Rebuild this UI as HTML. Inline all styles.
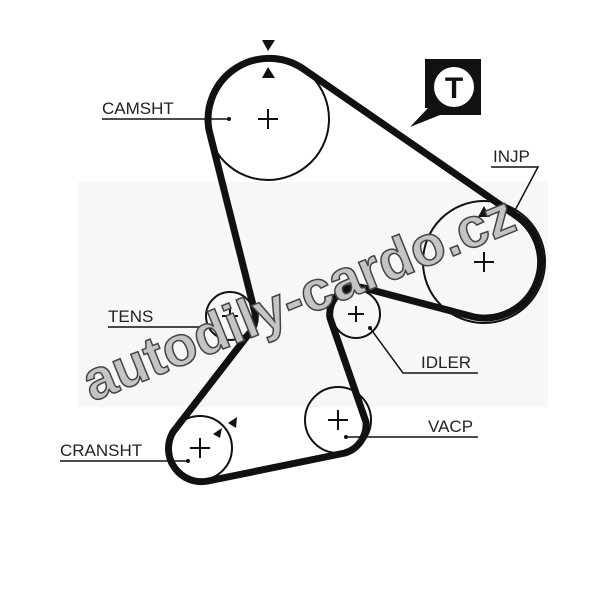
<!DOCTYPE html><html><head><style>body{margin:0;background:#fff}svg{display:block}</style></head><body>
<svg width="600" height="589" viewBox="0 0 600 589" xmlns="http://www.w3.org/2000/svg" font-family="Liberation Sans, sans-serif">
<rect x="78" y="182" width="470" height="225" fill="#f7f7f7"/>
<g fill="none" stroke="#111" stroke-width="2">
<circle cx="268" cy="119" r="61"/>
<circle cx="484" cy="262" r="61"/>
<circle cx="230" cy="316" r="24"/>
<circle cx="356" cy="314" r="24"/>
<circle cx="338" cy="420" r="33"/>
<circle cx="200" cy="448" r="32"/>
</g>
<g stroke="#111" stroke-width="2">
<path d="M258 119h20M268 109v20M474 262h20M484 252v20M222 316h16M230 308v16M348 314h16M356 306v16M328 420h20M338 410v20M190 448h20M200 438v20"/>
</g>
<path d="M302 68 L515 215 A56 56 0 0 1 474 317 L364 288 A27 27 0 0 0 330 318 L366 422 A30 30 0 0 1 345 453 L208 481 A33 33 0 0 1 173 432 L248 335 A26 26 0 0 0 255 313 L209 130 A61 61 0 0 1 302 68 Z" fill="none" stroke="#111" stroke-width="7" stroke-linejoin="round"/>
<g fill="#111">
<polygon points="262,40 275,40 268,51"/><polygon points="262,78 275,78 268,67"/>
<polygon points="478,217 490,217 484,206"/>
<polygon points="228,423 237,417 236,428"/>
<polygon points="213,434 222,428 220,438"/>
</g>
<g stroke="#111" stroke-width="1.5" fill="none">
<path d="M102 119H229"/><path d="M491 167H538L512 216"/><path d="M108 327H212"/>
<path d="M370 328L403 373H478"/><path d="M346 437H478"/><path d="M60 461H188"/>
</g>
<g fill="#111"><circle cx="229" cy="119" r="2"/><circle cx="212" cy="327" r="2"/><circle cx="370" cy="328" r="2"/><circle cx="346" cy="437" r="2"/><circle cx="188" cy="461" r="2"/></g>
<g font-size="17" fill="#222">
<text x="102" y="114">CAMSHT</text><text x="493" y="162">INJP</text><text x="108" y="322">TENS</text>
<text x="421" y="368">IDLER</text><text x="428" y="432">VACP</text><text x="60" y="456">CRANSHT</text>
</g>
<path d="M425 59H481V115H440L410 127L428 108H425Z" fill="#111"/>
<circle cx="454" cy="87" r="20" fill="#fff"/>
<text x="454" y="98" font-size="30" font-weight="bold" text-anchor="middle" fill="#111">T</text>
<text x="92" y="402" font-size="56" font-weight="bold" fill="#c4c4c4" stroke="#444" stroke-width="1.5" transform="rotate(-22 92 402)">autodily-cardo.cz</text>
</svg>
</body></html>
